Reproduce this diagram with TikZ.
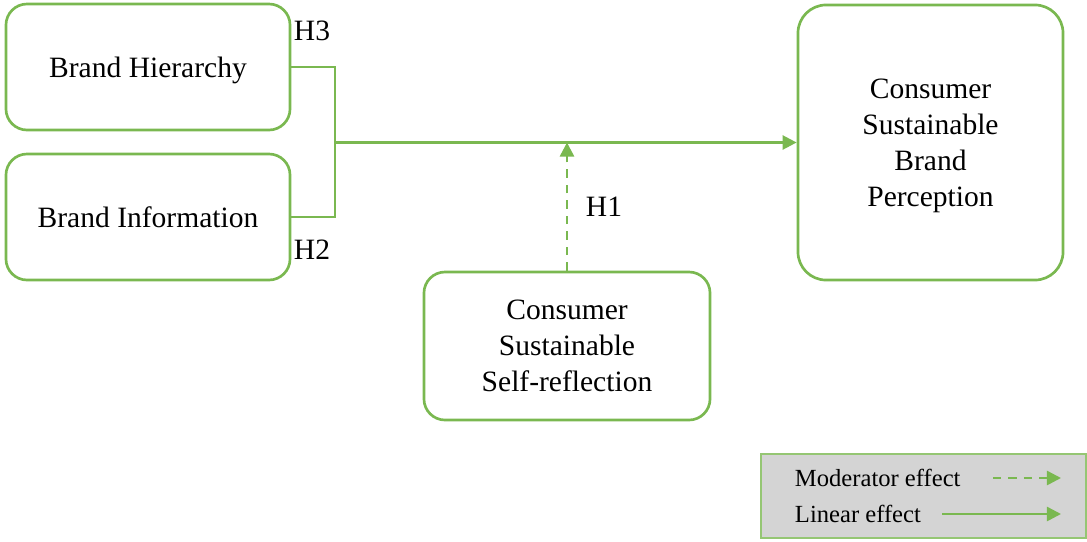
\documentclass[tikz,border=0pt]{standalone}
\usepackage{fontspec}
\setmainfont{Liberation Serif}
\usepackage{tikz}
\usetikzlibrary{arrows.meta}
\definecolor{leafgreen}{RGB}{122,184,80}
\definecolor{legendgrey}{RGB}{212,212,212}
\tikzstyle{construct}=[shape=rectangle,rounded corners=15pt,draw=leafgreen,line width=1.9pt,align=center,inner sep=0pt,text depth=0pt,font=\fontsize{21}{25.5}\selectfont]
\tikzstyle{hyp}=[font=\fontsize{21}{25.5}\selectfont]
\tikzstyle{linear}=[draw=leafgreen,line width=1.8pt,-{Triangle[length=10pt,width=10pt]}]
\tikzstyle{moderator}=[linear,dash pattern=on 6pt off 5pt]

\begin{document}
\begin{tikzpicture}[x=0.025cm,y=-0.025cm]
		\useasboundingbox (0,0) rectangle (1087,541);

		% constructs
		\node[construct,minimum width=7.1cm,minimum height=3.15cm] (bh) at (148,67) {Brand Hierarchy};
		\node[construct,minimum width=7.1cm,minimum height=3.15cm] (bi) at (148,217) {Brand Information};
		\node[construct,rounded corners=20pt,minimum width=6.625cm,minimum height=6.875cm] (csbp) at (930.5,142.5) {Consumer\\Sustainable\\Brand\\Perception};
		\node[construct,minimum width=7.15cm,minimum height=3.7cm] (cssr) at (567,346) {Consumer\\Sustainable\\Self-reflection};

		% joining lines
		\coordinate (j3) at (335,67);
		\coordinate (j2) at (335,217);
		\coordinate (jm) at (335,142.5);
		\draw[draw=leafgreen,line width=1.8pt] (bh.east) -- (j3) -- (j2) -- (bi.east);
		\draw[linear] (jm) -- (csbp.west);
		\draw[moderator] (cssr.north) -- (cssr.north |- jm);

		% hypotheses
		\node[hyp] (h3) at (312,31) {H3};
		\node[hyp] (h2) at (312,250) {H2};
		\node[hyp] (h1) at (604,207) {H1};

		% legend
		\node[shape=rectangle,draw=leafgreen!80,fill=legendgrey,line width=1.4pt,minimum width=8.125cm,minimum height=2.1cm,inner sep=0pt] (legend) at (923.5,496) {};
		\node[anchor=west,font=\fontsize{17.5}{21}\selectfont] (modtext) at (790,478) {Moderator effect};
		\node[anchor=west,font=\fontsize{17.5}{21}\selectfont] (lintext) at (790,514) {Linear effect};
		\coordinate (mods) at (993,478);
		\coordinate (mode) at (1061,478);
		\coordinate (lins) at (942,514);
		\coordinate (line) at (1061,514);
		\draw[moderator] (mods) -- (mode);
		\draw[linear] (lins) -- (line);

\end{tikzpicture}
\end{document}
